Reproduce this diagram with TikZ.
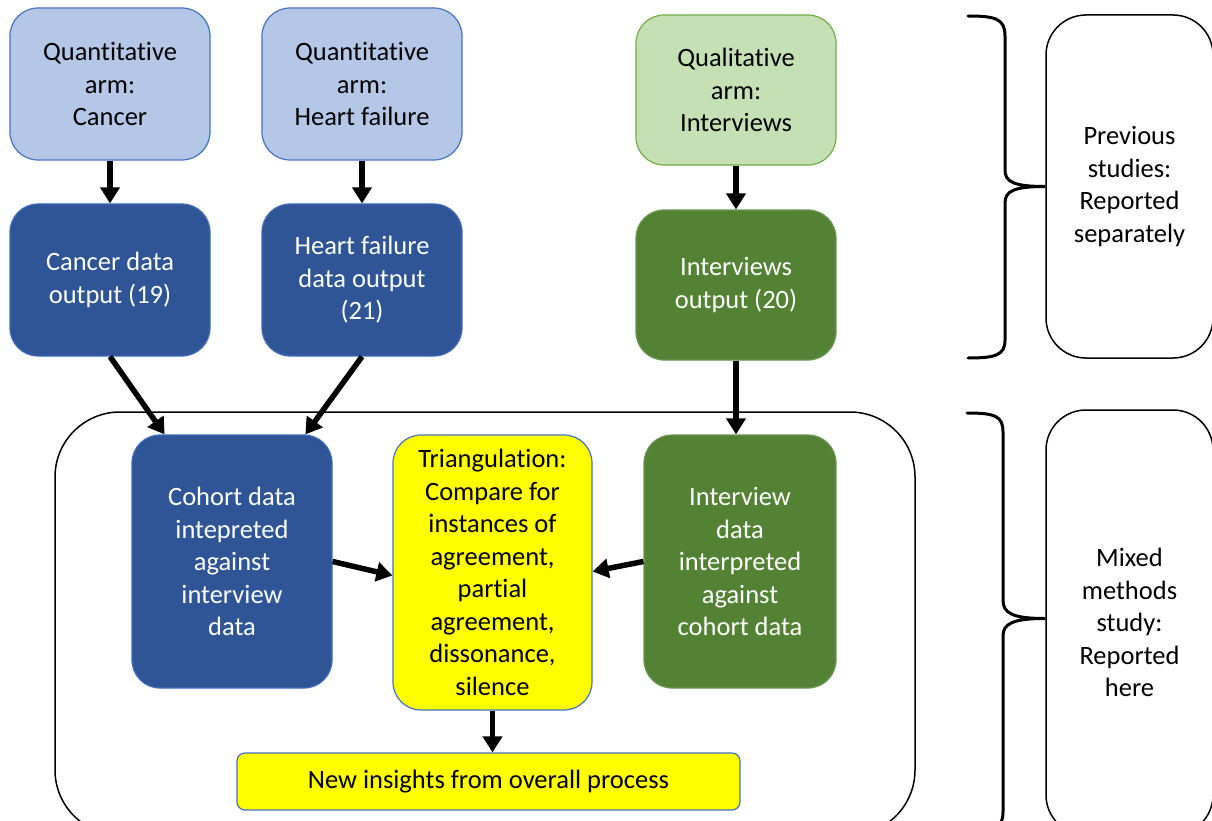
\documentclass[tikz,border=0pt]{standalone}
\usepackage{fontspec}
\setmainfont{Carlito}[RawFeature={-liga;-clig;-dlig}]
\usetikzlibrary{arrows.meta,calc}
\definecolor{lblue}{HTML}{B4C7E7}
\definecolor{dblue}{HTML}{2F5597}
\definecolor{mblue}{HTML}{4472C4}
\definecolor{lgreen}{HTML}{C5E0B4}
\definecolor{mgreen}{HTML}{70AD47}
\definecolor{dgreen}{HTML}{548235}
\definecolor{yel}{HTML}{FFFF00}
\tikzset{
  box/.style={rectangle, rounded corners=28pt, align=center, inner sep=2pt,
    font=\fontsize{26.5}{32.5}\selectfont, line width=1.2pt},
  lightblue/.style={box, fill=lblue, draw=mblue, text=black},
  darkblue/.style={box, fill=dblue, draw=mblue!80!dblue, text=white},
  lightgreen/.style={box, fill=lgreen, draw=mgreen, text=black},
  darkgreen/.style={box, fill=dgreen, draw=dgreen!85!white, text=white},
  yellowbox/.style={box, fill=yel, draw=mblue, text=black},
  sidebox/.style={box, rounded corners=40pt, draw=black, line width=1.5pt, fill=none},
  arr/.style={line width=5.5pt, -{Triangle[width=19pt,length=16pt]}},
  bracestyle/.style={line width=3pt, line cap=round}
}
\begin{document}
\begin{tikzpicture}[x=1pt,y=-1pt]
\useasboundingbox (0,0) rectangle (1212,821);
\clip (0,0) rectangle (1212,821);
\fill[white] (0,0) rectangle (1212,821);

% container
\draw[line width=1.5pt, rounded corners=65pt] (55,412) rectangle (915,835);

% top row
\node[lightblue, minimum width=200pt, minimum height=152pt] (qc) at (110,84) {Quantitative\\arm:\\Cancer};
\node[lightblue, minimum width=200pt, minimum height=152pt] (qh) at (362,84) {Quantitative\\arm:\\Heart failure};
\node[lightgreen, minimum width=200pt, minimum height=150pt] (ql) at (736,90) {Qualitative\\arm:\\Interviews};

% outputs
\node[darkblue, minimum width=200pt, minimum height=152pt] (co) at (110,280) {Cancer data\\output (19)};
\node[darkblue, minimum width=200pt, minimum height=152pt] (ho) at (362,280) {Heart failure\\data output\\(21)};
\node[darkgreen, minimum width=200pt, minimum height=150pt] (io) at (736,285) {Interviews\\output (20)};

% mixed methods
\node[darkblue, minimum width=200pt, minimum height=253pt] (coh) at (232,561.5) {Cohort data\\intepreted\\against\\interview\\data};
\node[yellowbox, minimum width=199pt, minimum height=275pt] (tri) at (492.5,572.5) {Triangulation:\\Compare for\\instances of\\agreement,\\partial\\agreement,\\dissonance,\\silence};
\node[darkgreen, minimum width=192pt, minimum height=253pt] (idb) at (740,561.5) {Interview\\data\\interpreted\\against\\cohort data};
\node[yellowbox, rounded corners=8pt, minimum width=503pt, minimum height=57pt] (new) at (488.5,781.5) {New insights from overall process};

% arrows
\draw[arr] (qc.south) -- (co.north);
\draw[arr] (qh.south) -- (ho.north);
\draw[arr] (ql.south) -- (io.north);
\draw[arr] (co.south) -- ($(coh.north)!0.67!(coh.north west)$);
\draw[arr] (ho.south) -- ($(coh.north)!0.73!(coh.north east)$);
\draw[arr] (io.south) -- (io.south |- idb.north);
\draw[arr] (coh.east) -- ([yshift=-3pt]tri.west);
\draw[arr] (idb.west) -- ([yshift=1pt]tri.east);
\draw[arr] (tri.south) -- (tri.south |- new.north);

% side boxes
\node[sidebox, minimum width=167pt, minimum height=343pt] (prev) at (1129.5,186.5) {Previous\\studies:\\Reported\\separately};
\node[sidebox, minimum width=167pt, minimum height=425pt] (mixed) at (1129.5,622.5) {Mixed\\methods\\study:\\Reported\\here};

% braces
\coordinate (b1tip) at (prev.west);
\draw[bracestyle] (968,16) .. controls (996,16) and (1005,19) .. (1005,36) -- (1005,170)
  .. controls (1005,182) and (1014,186.5) .. (b1tip)
  .. controls (1014,186.5) and (1005,191) .. (1005,203) -- (1005,340)
  .. controls (1005,355) and (996,358) .. (968,358);
\coordinate (b2tip) at ([yshift=4pt]mixed.west);
\draw[bracestyle] (967,413) .. controls (995,413) and (1003,416) .. (1003,432) -- (1003,600)
  .. controls (1003,613) and (1012,618.5) .. (b2tip)
  .. controls (1012,618.5) and (1003,624) .. (1003,636) -- (1003,812)
  .. controls (1003,828) and (995,831) .. (967,831);
\end{tikzpicture}
\end{document}
